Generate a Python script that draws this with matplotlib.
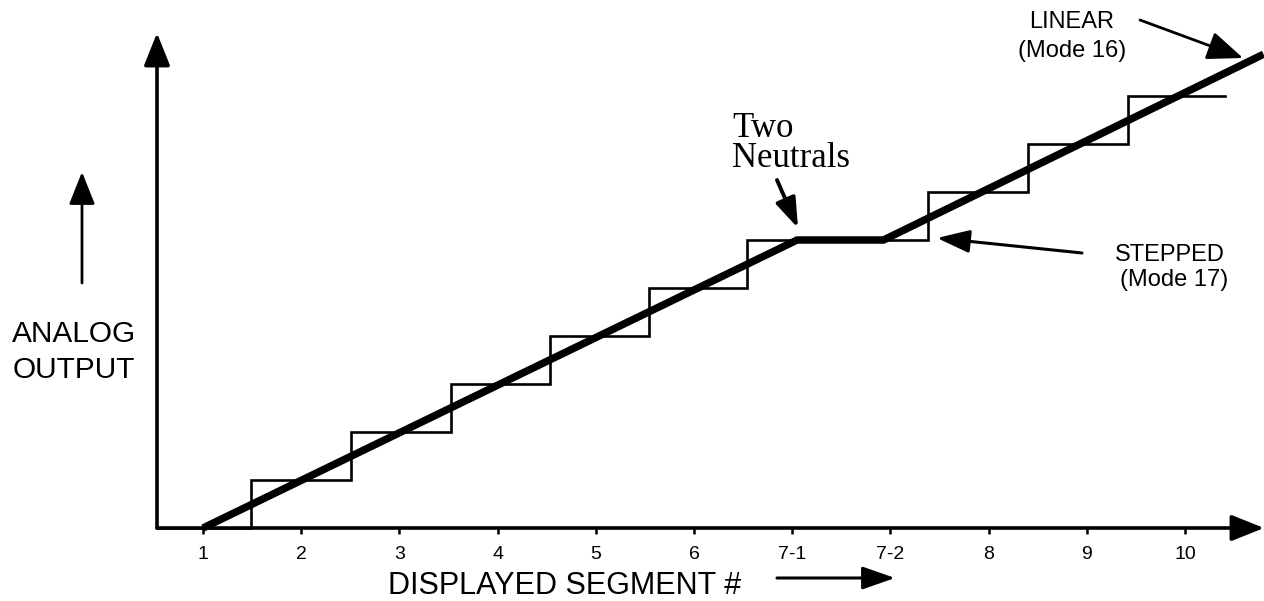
import matplotlib
matplotlib.use("Agg")
import matplotlib.pyplot as plt

# ---------------- data ----------------
segment_labels = ['1', '2', '3', '4', '5', '6', '7-1', '7-2', '8', '9', '10']
segment_positions = [1, 2, 3, 4, 5, 6, 7, 8, 9, 10, 11]

# linear output (Mode 16): breakpoints
linear_x = [1.0, 7.05, 7.93, 11.8]
linear_y = [0.0, 6.0, 6.0, 9.87]

# stepped output (Mode 17): step edges and levels
step_edges = [0.53, 1.49, 2.51, 3.53, 4.53, 5.54, 6.54, 8.38, 9.40, 10.42, 11.41]
step_levels = [0, 1, 2, 3, 4, 5, 6, 7, 8, 9]

# ---------------- figure ----------------
W, H = 1264, 601
fig = plt.figure(figsize=(W / 100, H / 100), dpi=100)
fig.patch.set_facecolor('white')

SANS = ['Liberation Sans', 'DejaVu Sans']
SERIF = ['Liberation Serif', 'DejaVu Serif']

def P(x, y):
    return (x, H - y)

def F(x, y):
    return (x / W, 1 - y / H)

ax_left, ax_right, ax_bottom, ax_top = 157, 1264, 528, 33
ax = fig.add_axes([ax_left / W, (H - ax_bottom) / H,
                   (ax_right - ax_left) / W, (ax_bottom - ax_top) / H])
px_per_x = 98.2
px_per_y = 48.0
xmin = 1 - (203 - ax_left) / px_per_x
ax.set_xlim(xmin, xmin + (ax_right - ax_left) / px_per_x)
ax.set_ylim(0, (ax_bottom - ax_top) / px_per_y)
for s in ax.spines.values():
    s.set_visible(False)
ax.patch.set_alpha(0)

# axes with arrows
for end in [(1, 0), (0, 1)]:
    ax.annotate('', xy=end, xytext=(0, 0), xycoords='axes fraction',
                arrowprops=dict(arrowstyle='-|>,head_length=1.0,head_width=0.4',
                                mutation_scale=20, lw=2.6, color='black',
                                shrinkA=0, shrinkB=0), annotation_clip=False)

# stepped line
sx = list(step_edges)
sy = list(step_levels) + [step_levels[-1]]
ax.plot(sx, sy, drawstyle='steps-post', color='black', lw=1.9,
        clip_on=False, solid_joinstyle='miter')

# linear line
ax.plot(linear_x, linear_y, color='black', lw=5.4, clip_on=False,
        solid_capstyle='butt', solid_joinstyle='miter')

# ticks
ax.set_xticks(segment_positions)
ax.set_xticklabels(segment_labels, fontfamily=SANS, fontsize=14)
ax.set_yticks([])
ax.tick_params(axis='x', direction='out', length=4, width=1.8, pad=9,
               colors='black')

# ---------------- texts ----------------
fig.text(*F(12, 342), 'ANALOG', fontfamily=SANS, fontsize=21.5,
         ha='left', va='baseline')
fig.text(*F(13, 378), 'OUTPUT', fontfamily=SANS, fontsize=21.5,
         ha='left', va='baseline')
fig.text(*F(388, 594), 'DISPLAYED SEGMENT #', fontfamily=SANS, fontsize=22,
         ha='left', va='baseline')
fig.text(*F(732, 137), 'Two', fontfamily=SERIF, fontsize=25,
         ha='left', va='baseline')
fig.text(*F(732, 167), 'Neutrals', fontfamily=SERIF, fontsize=25,
         ha='left', va='baseline')
fig.text(*F(1072, 28), 'LINEAR', fontfamily=SANS, fontsize=17,
         ha='center', va='baseline')
fig.text(*F(1072, 57), '(Mode 16)', fontfamily=SANS, fontsize=17,
         ha='center', va='baseline')
fig.text(*F(1170, 261), 'STEPPED', fontfamily=SANS, fontsize=17,
         ha='center', va='baseline')
fig.text(*F(1174, 286), '(Mode 17)', fontfamily=SANS, fontsize=17,
         ha='center', va='baseline')

# ---------------- annotation arrows ----------------
def arrow(x0, y0, x1, y1, lw=2.0, hl=1.0, hw=0.4, ms=20):
    fig.add_artist(matplotlib.patches.FancyArrowPatch(
        P(x0, y0), P(x1, y1), transform=None,
        arrowstyle=f'-|>,head_length={hl},head_width={hw}',
        mutation_scale=ms, lw=lw, color='black', shrinkA=0, shrinkB=0))

arrow(82, 283, 82, 172, lw=2.0, hl=1.0, hw=0.4, ms=20)          # analog up
arrow(777, 578, 895, 578, lw=2.2, hl=1.0, hw=0.35, ms=20)       # displayed segment
arrow(777, 180, 798, 228, lw=2.8, hl=1.0, hw=0.35, ms=18)       # two neutrals
arrow(1140, 20, 1243, 58, lw=2.0, hl=1.0, hw=0.4, ms=22)        # linear
arrow(1082, 253, 937, 238, lw=2.2, hl=1.0, hw=0.35, ms=20)      # stepped

fig.savefig('out.png', dpi=100, facecolor='white')
